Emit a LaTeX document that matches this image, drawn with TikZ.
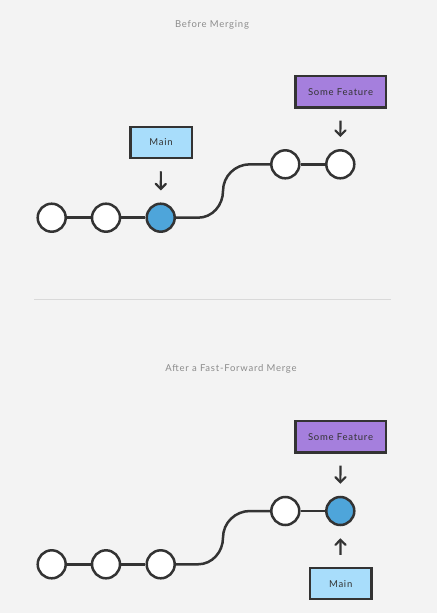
\documentclass[tikz,border=0pt]{standalone}
\usepackage{fontspec}
\setmainfont{Lato}[LetterSpace=8]
\usepackage{tikz}
\usetikzlibrary{arrows}

\definecolor{bgcol}{HTML}{F3F3F3}
\definecolor{inkcol}{HTML}{333333}
\definecolor{headcol}{HTML}{4EA5DA}
\definecolor{maincol}{HTML}{A8DDFB}
\definecolor{featcol}{HTML}{A57FDD}

\begin{document}
\begin{tikzpicture}[x=1pt, y=-1pt, line width=2.5pt, draw=inkcol,
  commit/.style={circle, draw=inkcol, fill=white, minimum size=28pt, inner sep=0pt},
  headcommit/.style={commit, fill=headcol},
  mainbox/.style={draw=inkcol, fill=maincol, minimum width=61.5pt, minimum height=31pt, font=\fontsize{9.5}{11}\selectfont, text=inkcol},
  featbox/.style={draw=inkcol, fill=featcol, minimum width=90.5pt, minimum height=31.5pt, font=\fontsize{9.5}{11}\selectfont, text=inkcol},
  pointer/.style={-angle 90, draw=inkcol, line width=2.2pt, shorten <=12pt, shorten >=12pt},
  caption/.style={font=\fontsize{9.5}{11}\selectfont, text=black!45}]
\fill[bgcol] (0,0) rectangle (437,613);
\useasboundingbox (0,0) rectangle (437,613);

% before merging
\node[caption] (t1) at (212,25) {Before Merging};
\node[commit] (c1) at (51.7,217.7) {};
\node[commit] (c2) at (106,217.7) {};
\node[headcommit] (c3) at (160.7,217.7) {};
\node[commit] (c4) at (285.3,164.3) {};
\node[commit] (c5) at (340.3,164.3) {};
\coordinate (b1) at (198,217.7);
\coordinate (b2) at (223,191);
\coordinate (b3) at (250,164.3);
\draw (c1) -- (c2);
\draw (c2) -- (c3);
\draw (c3) -- (b1) to[out=0, in=-90] (b2) to[out=90, in=180] (b3) -- (c4);
\draw (c4) -- (c5);
\node[mainbox] (m1) at (161,142.5) {Main};
\node[featbox] (f1) at (340.5,91.7) {Some Feature};
\draw[pointer] (m1) -- (c3);
\draw[pointer] (f1) -- (c5);

\draw[line width=0.8pt, draw=black!15] (34.3,299.3) -- (390.7,299.3);

% after a fast-forward merge
\node[caption] (t2) at (231,369) {After a Fast-Forward Merge};
\node[commit] (a1) at (51.7,564.3) {};
\node[commit] (a2) at (106,564.3) {};
\node[commit] (a3) at (160.7,564.3) {};
\node[commit] (a4) at (285.3,511) {};
\node[headcommit] (a5) at (340.3,511) {};
\coordinate (d1) at (198,564.3);
\coordinate (d2) at (223,537.6);
\coordinate (d3) at (250,511);
\draw (a1) -- (a2);
\draw (a2) -- (a3);
\draw (a3) -- (d1) to[out=0, in=-90] (d2) to[out=90, in=180] (d3) -- (a4);
\draw (a4) -- (a5);
\node[featbox] (f2) at (340.5,436.7) {Some Feature};
\node[mainbox] (m2) at (340.7,583.7) {Main};
\draw[pointer] (f2) -- (a5);
\draw[pointer] (m2) -- (a5);
\end{tikzpicture}
\end{document}
